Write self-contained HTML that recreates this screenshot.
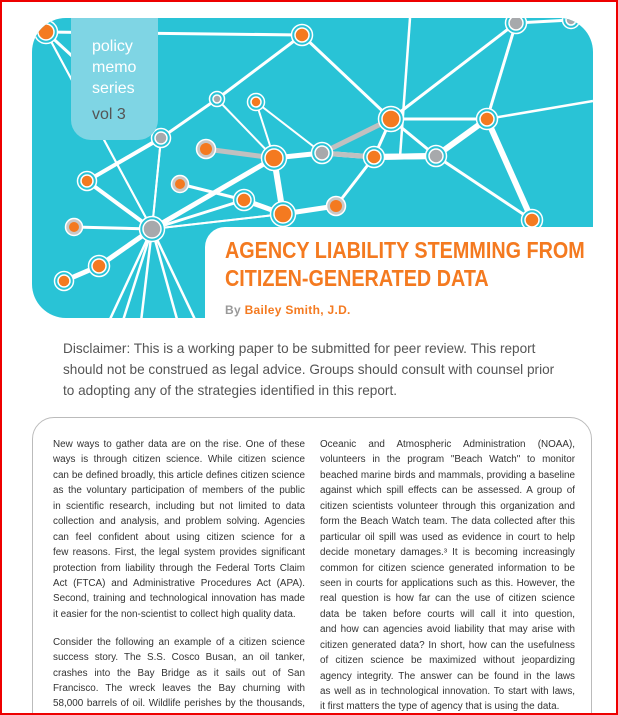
<!DOCTYPE html>
<html><head><meta charset="utf-8"><style>
html,body{margin:0;padding:0;width:618px;height:715px;overflow:hidden}
body{background:#fff;position:relative;font-family:"Liberation Sans",sans-serif}
#frame{position:absolute;left:0;top:0;width:614px;height:711px;border:2px solid #e00;z-index:9;pointer-events:none}
#hero{position:absolute;left:32px;top:18px;width:561px;height:300px;background:#29c3d6;border-radius:34px;overflow:hidden}
#tab{position:absolute;left:71px;top:18px;width:87px;height:122px;background:#7fd5e4;border-radius:0 0 20px 20px}
#tab div{position:absolute;left:21px;color:#fff;font-size:16px}
#titlebox{position:absolute;left:205px;top:227px;width:400px;height:95px;background:#fff;border-radius:20px 0 0 0}
.title{position:absolute;left:225px;color:#f47a20;font-weight:bold;font-size:23px;white-space:nowrap;transform-origin:0 0;transform:scaleX(0.86)}
#by{position:absolute;left:225px;top:303px;font-size:12px;font-weight:bold;color:#f47a20;letter-spacing:0.3px}
#disc{position:absolute;left:63px;top:338px;font-size:13.6px;line-height:21px;color:#555;white-space:nowrap}
#box{position:absolute;left:32px;top:417px;width:558px;height:320px;border:1.5px solid #bbb;border-radius:22px}
.col{position:absolute;font-size:9.9px;line-height:15.45px;color:#333}
.col div{text-align:justify;text-align-last:justify;white-space:nowrap;height:15.45px}
.col div.l{text-align-last:left}
</style></head><body>
<div id="frame"></div>
<div id="hero">
<svg width="561" height="300" viewBox="32 18 561 300" id="net"></svg>
</div>
<div id="tab">
<div style="top:20px">policy</div><div style="top:41px">memo</div><div style="top:62px">series</div><div style="top:88px;color:#555">vol 3</div>
</div>
<div id="titlebox"></div>
<div class="title" style="top:237px">AGENCY LIABILITY STEMMING FROM</div>
<div class="title" style="top:265px">CITIZEN-GENERATED DATA</div>
<div id="by"><span style="color:#999">By</span> Bailey Smith, J.D.</div>
<div id="disc">Disclaimer: This is a working paper to be submitted for peer review. This report<br>should not be construed as legal advice. Groups should consult with counsel prior<br>to adopting any of the strategies identified in this report.</div>
<div id="box"></div>
<div class="col" style="left:53px;top:437px;width:252px">
<div>New ways to gather data are on the rise. One of these</div>
<div>ways is through citizen science. While citizen science</div>
<div>can be defined broadly, this article defines citizen science</div>
<div>as the voluntary participation of members of the public</div>
<div>in scientific research, including but not limited to data</div>
<div>collection and analysis, and problem solving. Agencies</div>
<div>can feel confident about using citizen science for a</div>
<div>few reasons. First, the legal system provides significant</div>
<div>protection from liability through the Federal Torts Claim</div>
<div>Act (FTCA) and Administrative Procedures Act (APA).</div>
<div>Second, training and technological innovation has made</div>
<div class="l">it easier for the non-scientist to collect high quality data.</div>
<div></div>
<div style="margin-top:-3px">Consider the following an example of a citizen science</div>
<div>success story. The S.S. Cosco Busan, an oil tanker,</div>
<div>crashes into the Bay Bridge as it sails out of San</div>
<div>Francisco. The wreck leaves the Bay churning with</div>
<div>58,000 barrels of oil. Wildlife perishes by the thousands,</div>
</div>
<div class="col" style="left:320px;top:437px;width:255px">
<div>Oceanic and Atmospheric Administration (NOAA),</div>
<div>volunteers in the program "Beach Watch" to monitor</div>
<div>beached marine birds and mammals, providing a baseline</div>
<div>against which spill effects can be assessed. A group of</div>
<div>citizen scientists volunteer through this organization and</div>
<div>form the Beach Watch team. The data collected after this</div>
<div>particular oil spill was used as evidence in court to help</div>
<div>decide monetary damages.³ It is becoming increasingly</div>
<div>common for citizen science generated information to be</div>
<div>seen in courts for applications such as this. However, the</div>
<div>real question is how far can the use of citizen science</div>
<div>data be taken before courts will call it into question,</div>
<div>and how can agencies avoid liability that may arise with</div>
<div>citizen generated data? In short, how can the usefulness</div>
<div>of citizen science be maximized without jeopardizing</div>
<div>agency integrity. The answer can be found in the laws</div>
<div>as well as in technological innovation. To start with laws,</div>
<div class="l">it first matters the type of agency that is using the data.</div>
</div>
<script>
const nodeX=[46,302,516,571,217,256,391,487,161,206,274,322,374,436,87,180,244,283,336,532,74,152,99,64];
const nodeY=[32,35,23,20,99,102,119,119,138,149,158,153,157,156,181,184,200,214,206,220,227,229,266,281];
const nodeR=[8,7,7,5,4,5,9,7,6,6,9,7,7,7,6,5,7,9,6,7,5,9,7,6];
const nodeC=['o','o','g','g','g','o','o','o','g','oh','o','g','o','g','o','oh','o','o','oh','o','oh','g','o','o'];
const edgeA=[0,0,1,1,4,4,5,5,6,6,6,6,7,7,8,8,9,10,10,10,11,11,12,13,13,14,15,16,17,17,18,20,21,21,21,21,22,2,2,0,21,21,21,7];
const edgeB=[1,8,4,6,10,8,10,11,7,12,2,13,13,19,21,14,10,11,17,21,6,12,13,19,12,21,16,17,21,18,12,21,22,16,0,8,23,3,7,21,17,21,21,19];
const edgeW=[3,3,3,3,2,3,2,2,3,3,3,3,6,6,2,4,4,5,6,5,3,5,6,3,6,4,3,5,2,5,3,3,5,3,2,2,5,3,3,2,2,2,2,2];
const grayEdges=[[9,10],[11,6],[11,12]];
const svg=document.getElementById('net');
const NS='http://www.w3.org/2000/svg';
[[152,229,120,330],[152,229,140,330],[152,229,180,330],[152,229,200,330],[152,229,105,330],[410,18,400,157],[593,101,487,119]].forEach(e=>{
 const l=document.createElementNS(NS,'line');
 
 
 l.setAttribute('x1',e[0]);l.setAttribute('y1',e[1]);l.setAttribute('x2',e[2]);l.setAttribute('y2',e[3]);
 l.setAttribute('stroke','#fff');l.setAttribute('stroke-width',2.5);svg.appendChild(l);
});
for(let i=0;i<edgeA.length;i++){
 const a=edgeA[i],b=edgeB[i];if(a===b)continue;
 const l=document.createElementNS(NS,'line');
 
 
 l.setAttribute('x1',nodeX[a]);l.setAttribute('y1',nodeY[a]);l.setAttribute('x2',nodeX[b]);l.setAttribute('y2',nodeY[b]);
 l.setAttribute('stroke','#fff');l.setAttribute('stroke-width',edgeW[i]);svg.appendChild(l);
}
grayEdges.forEach(e=>{
 const l=document.createElementNS(NS,'line');
 
 
 l.setAttribute('x1',nodeX[e[0]]);l.setAttribute('y1',nodeY[e[0]]);l.setAttribute('x2',nodeX[e[1]]);l.setAttribute('y2',nodeY[e[1]]);
 l.setAttribute('stroke','#c0c0c0');l.setAttribute('stroke-width',5);svg.appendChild(l);
});
for(let i=0;i<nodeX.length;i++){
 const g=document.createElementNS(NS,'g');
 
 
 const r=nodeR[i];
 const o=document.createElementNS(NS,'circle');
 o.setAttribute('cx',nodeX[i]);o.setAttribute('cy',nodeY[i]);o.setAttribute('r',r+3.5);
 o.setAttribute('fill',nodeC[i]==='oh'?'#c8c8c8':'#29c3d6');o.setAttribute('stroke','#fff');o.setAttribute('stroke-width',1.5);
 g.appendChild(o);
 const c=document.createElementNS(NS,'circle');
 c.setAttribute('cx',nodeX[i]);c.setAttribute('cy',nodeY[i]);c.setAttribute('r',r);
 c.setAttribute('fill',nodeC[i]==='g'?'#a7a9ac':'#f47a20');
 if(nodeC[i]!=='oh'){c.setAttribute('stroke','#fff');c.setAttribute('stroke-width',1.5);}
 g.appendChild(c);svg.appendChild(g);
}
</script>
</body></html>
